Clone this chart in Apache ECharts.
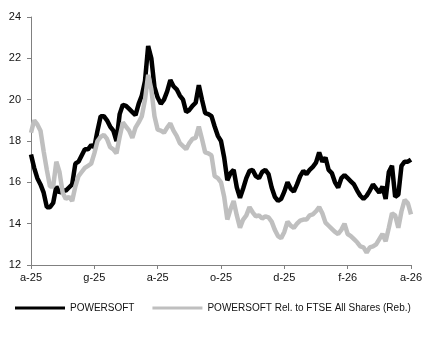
<!DOCTYPE html>
<html><head><meta charset="utf-8">
<script src="https://cdn.jsdelivr.net/npm/echarts@6/dist/echarts.min.js"></script>
<style>html,body{margin:0;padding:0;background:#fff}#c{width:425px;height:340px}</style>
</head><body><div id="c"></div>
<script>
var tickLabels = ['a-25','g-25','a-25','o-25','d-25','f-26','a-26'];
var seriesNames = ['POWERSOFT','POWERSOFT Rel. to FTSE All Shares (Reb.)'];
var powersoft = [17.35,16.7,16.2,15.9,15.5,14.8,14.8,15.0,15.8,15.5,
15.6,15.6,15.75,15.9,16.9,17.0,17.3,17.6,17.6,17.8,
17.7,18.5,19.2,19.2,19.0,18.7,18.5,18.0,19.3,19.75,
19.7,19.55,19.4,19.25,19.8,20.2,20.9,22.6,22.0,20.6,
20.1,19.8,20.0,20.4,20.95,20.65,20.5,20.2,20.0,19.4,
19.5,19.7,19.85,20.7,20.0,19.35,19.3,19.2,18.7,18.25,
18.0,17.2,16.1,16.45,16.6,15.75,15.25,15.7,16.2,16.55,
16.6,16.3,16.2,16.5,16.6,16.4,15.75,15.3,15.1,15.2,
15.55,16.0,15.7,15.55,15.9,16.3,16.55,16.4,16.6,16.75,
16.95,17.45,17.0,17.2,16.6,16.45,16.0,15.75,16.2,16.35,
16.2,16.05,15.9,15.6,15.35,15.2,15.35,15.6,15.9,15.7,
15.5,15.8,15.2,16.5,16.8,15.3,15.4,16.8,17.0,17.0,17.1];
var relative = [18.4,19.0,18.8,18.5,17.5,16.6,15.8,15.8,17.0,16.5,
15.5,15.2,15.3,15.1,15.8,16.3,16.5,16.7,16.8,16.9,
17.4,18.0,18.2,18.3,18.1,17.7,17.6,17.4,18.2,18.9,
18.7,18.5,18.15,18.65,18.9,19.2,20.0,21.2,20.5,19.2,
18.55,18.5,18.4,18.65,18.85,18.5,18.25,17.9,17.75,17.6,
17.9,18.1,18.15,18.7,18.1,17.45,17.4,17.3,16.3,16.2,
16.0,15.3,14.2,14.7,15.1,14.4,13.8,14.2,14.4,14.8,
14.55,14.35,14.4,14.25,14.35,14.3,14.1,13.7,13.4,13.3,
13.6,14.1,13.9,13.8,14.0,14.15,14.2,14.2,14.4,14.45,
14.6,14.8,14.5,14.05,13.9,13.75,13.6,13.5,13.7,14.0,
13.5,13.4,13.25,13.1,12.9,12.85,12.6,12.85,12.9,13.0,
13.25,13.5,13.15,13.8,14.5,14.4,13.8,14.6,15.15,15.0,14.45];

function pairs(arr){ return arr.map(function(v,i){ return [i, v]; }); }
var step = (powersoft.length - 1) / (tickLabels.length - 1);

var chart = echarts.init(document.getElementById('c'), null, {renderer:'canvas'});
var axisCol = '#808080';
var font = 'Arial, "Liberation Sans", sans-serif';
chart.setOption({
  animation: false,
  backgroundColor: '#fff',
  grid: {left: 31, right: 10, top: 17, bottom: 75, containLabel: false},
  xAxis: {
    type: 'value', min: 0, max: powersoft.length - 1, interval: step,
    axisLine: {show: true, onZero: false, lineStyle: {color: axisCol, width: 1}},
    axisTick: {show: true, length: 4, lineStyle: {color: axisCol}},
    splitLine: {show: false},
    axisLabel: {color: '#111', fontFamily: font, fontSize: 11, margin: 7,
      formatter: function(v){ var k = Math.round(v/step); return tickLabels[k] || ''; }}
  },
  yAxis: {
    type: 'value', min: 12, max: 24, interval: 2,
    axisLine: {show: true, lineStyle: {color: axisCol, width: 1}},
    axisTick: {show: true, length: 4, lineStyle: {color: axisCol}},
    splitLine: {show: false},
    axisLabel: {color: '#111', fontFamily: font, fontSize: 11, margin: 10}
  },
  legend: {
    left: 15, top: 303, padding: 0, itemGap: 18, itemWidth: 50, itemHeight: 3,
    icon: 'rect',
    textStyle: {color: '#111', fontFamily: font, fontSize: 10},
    data: seriesNames
  },
  series: [
    {name: seriesNames[0], type: 'line', data: pairs(powersoft), showSymbol: false,
     smooth: false, lineStyle: {color: '#000', width: 4.5}, itemStyle: {color: '#000'}},
    {name: seriesNames[1], type: 'line', data: pairs(relative), showSymbol: false,
     smooth: false, lineStyle: {color: '#bfbfbf', width: 4.5}, itemStyle: {color: '#bfbfbf'}}
  ]
});
</script></body></html>
